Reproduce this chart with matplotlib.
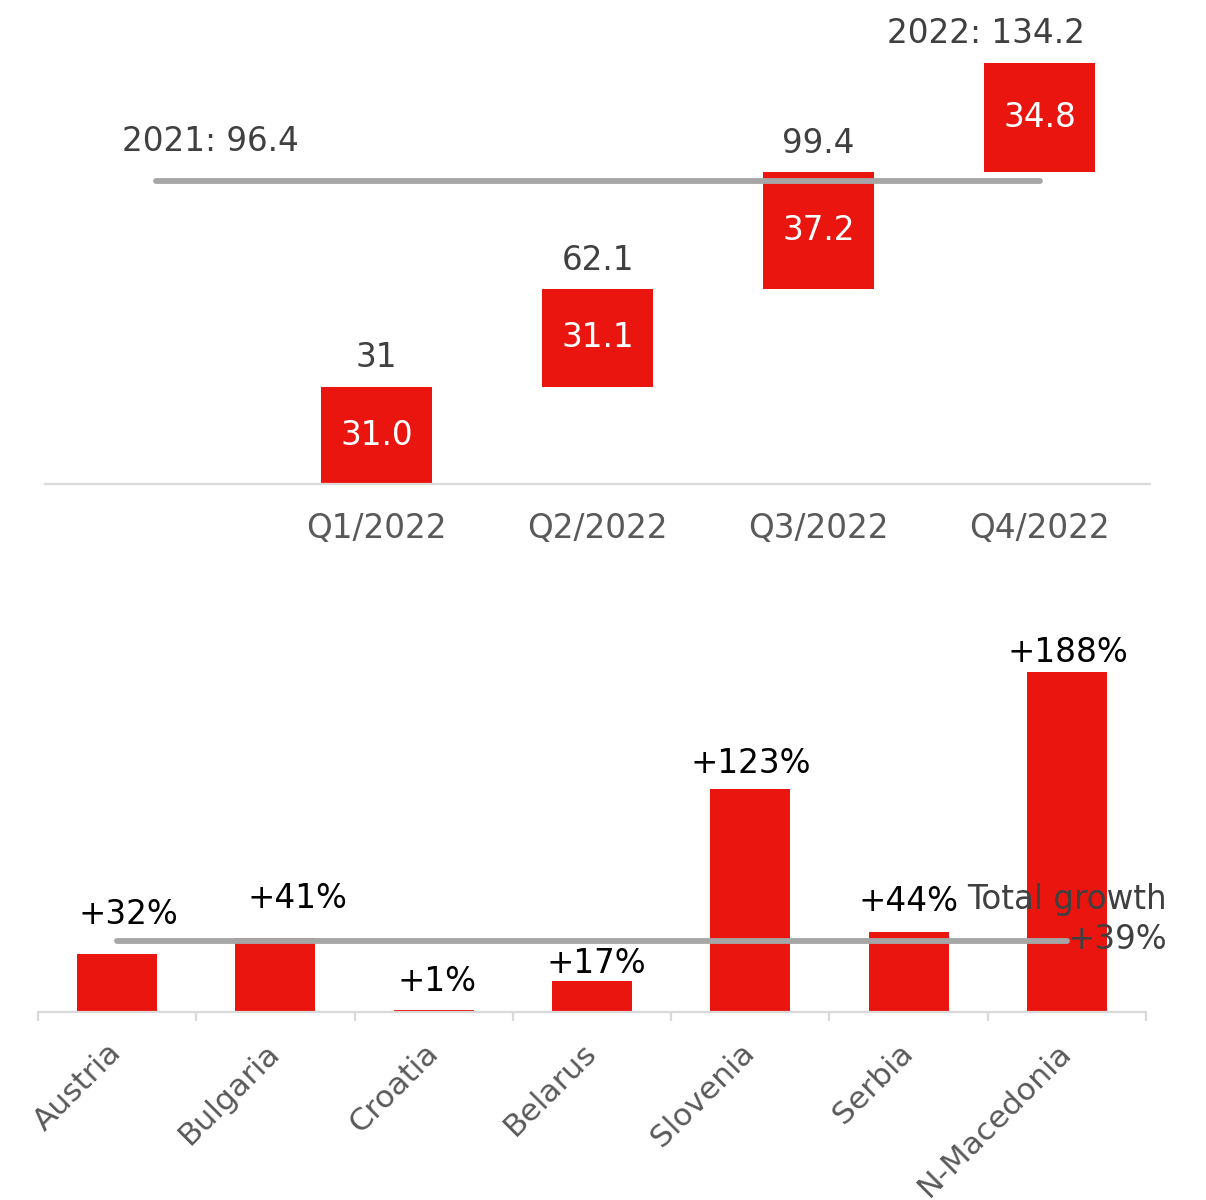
import numpy as np
import matplotlib.pyplot as plt

# top: quarterly waterfall
quarters = ["", "Q1/2022", "Q2/2022", "Q3/2022", "Q4/2022"]
q_values = [31.0, 31.1, 37.2, 34.8]
q_totals = ["31", "62.1", "99.4", "2022: 134.2"]
prev_year = 96.4
prev_label = "2021: 96.4"

# bottom: growth by country
countries = ["Austria", "Bulgaria", "Croatia", "Belarus", "Slovenia", "Serbia", "N-Macedonia"]
growth = [32, 41, 1, 17, 123, 44, 188]
total_growth = 39

RED = "#e9150e"
LINE = "#a6a6a6"
AXIS = "#d9d9d9"
TXT = "#404040"
TICK = "#595959"
FS = 23.5

plt.rcParams['font.family'] = ['DejaVu Sans']

fig = plt.figure(figsize=(12.06, 12.0), dpi=100)
W, H = 1206, 1200


def px_axes(x0, x1, ytop, ybot):
    return fig.add_axes([x0 / W, 1 - ybot / H, (x1 - x0) / W, (ybot - ytop) / H])


# ---- top chart
ax = px_axes(45, 1150, 0, 484)
ax.set_xlim(-0.5, 4.5)
ax.set_ylim(0, 484 / 3.14)
xs = np.arange(1, 5)
bottoms = np.concatenate([[0], np.cumsum(q_values)[:-1]])
bottoms[-1] = 99.4
ax.bar(xs, q_values, bottom=bottoms, width=0.505, color=RED, zorder=2)
for x, b, v in zip(xs, bottoms, q_values):
    ax.text(x, b + v / 2, f"{v:.1f}", color="white", fontsize=FS, ha="center", va="center", zorder=4)
tops = bottoms + np.array(q_values)
dx = [0, 0, 0, -54]
for x, t, lab, d in zip(xs, tops, q_totals, dx):
    ax.annotate(lab, (x, t), xytext=(d * 0.72, 29 * 0.72), textcoords="offset points",
                ha="center", va="center", color=TXT, fontsize=FS)
ax.plot([0, 4], [prev_year, prev_year], color=LINE, lw=4.2, solid_capstyle="round", zorder=3)
ax.annotate(prev_label, (0, prev_year), xytext=(-33 * 0.72, 40 * 0.72), textcoords="offset points",
            ha="left", va="center", color=TXT, fontsize=FS)
ax.set_xticks(range(5))
ax.set_xticklabels(quarters, color=TICK, fontsize=FS)
ax.tick_params(axis="x", length=0, pad=20)
ax.set_yticks([])
for s in ["top", "right", "left"]:
    ax.spines[s].set_visible(False)
ax.spines["bottom"].set_color(AXIS)
ax.spines["bottom"].set_linewidth(1.6)

# ---- bottom chart
bx = px_axes(38, 1146, 620, 1012)
bx.set_xlim(-0.5, 6.5)
bx.set_ylim(0, 392 / 1.81)
cx = np.arange(len(countries))
bx.bar(cx, growth, width=0.505, color=RED, zorder=2)
lab_dy = [40, 39, 29, 18, 26, 31, 19]
lab_dx = [11, 22, 3, 4, 0, 0, 1]
for x, g, dy, d in zip(cx, growth, lab_dy, lab_dx):
    bx.annotate(f"+{g}%", (x, g), xytext=(d * 0.72, dy * 0.72), textcoords="offset points",
                ha="center", va="center", color="black", fontsize=FS, zorder=5)
bx.plot([0, 6], [total_growth, total_growth], color=LINE, lw=4.2, solid_capstyle="round", zorder=3)
bx.annotate(f"Total growth\n+{total_growth}%", (6, total_growth), xytext=(100 * 0.72, 22 * 0.72),
            textcoords="offset points", ha="right", va="center", multialignment="right",
            color=TXT, fontsize=FS, linespacing=1.3, zorder=4)
bx.set_xticks(cx)
bx.set_xticklabels(countries, rotation=45, ha="right", va="center", rotation_mode="anchor",
                   color=TICK, fontsize=22.5)
bx.tick_params(axis="x", which="major", length=0, pad=26)
bx.set_xticks(np.arange(-0.5, 7, 1), minor=True)
bx.tick_params(axis="x", which="minor", length=6.5, width=1.6, color=AXIS)
bx.set_yticks([])
for s in ["top", "right", "left"]:
    bx.spines[s].set_visible(False)
bx.spines["bottom"].set_color(AXIS)
bx.spines["bottom"].set_linewidth(1.6)

fig.savefig("out.png", dpi=100)
